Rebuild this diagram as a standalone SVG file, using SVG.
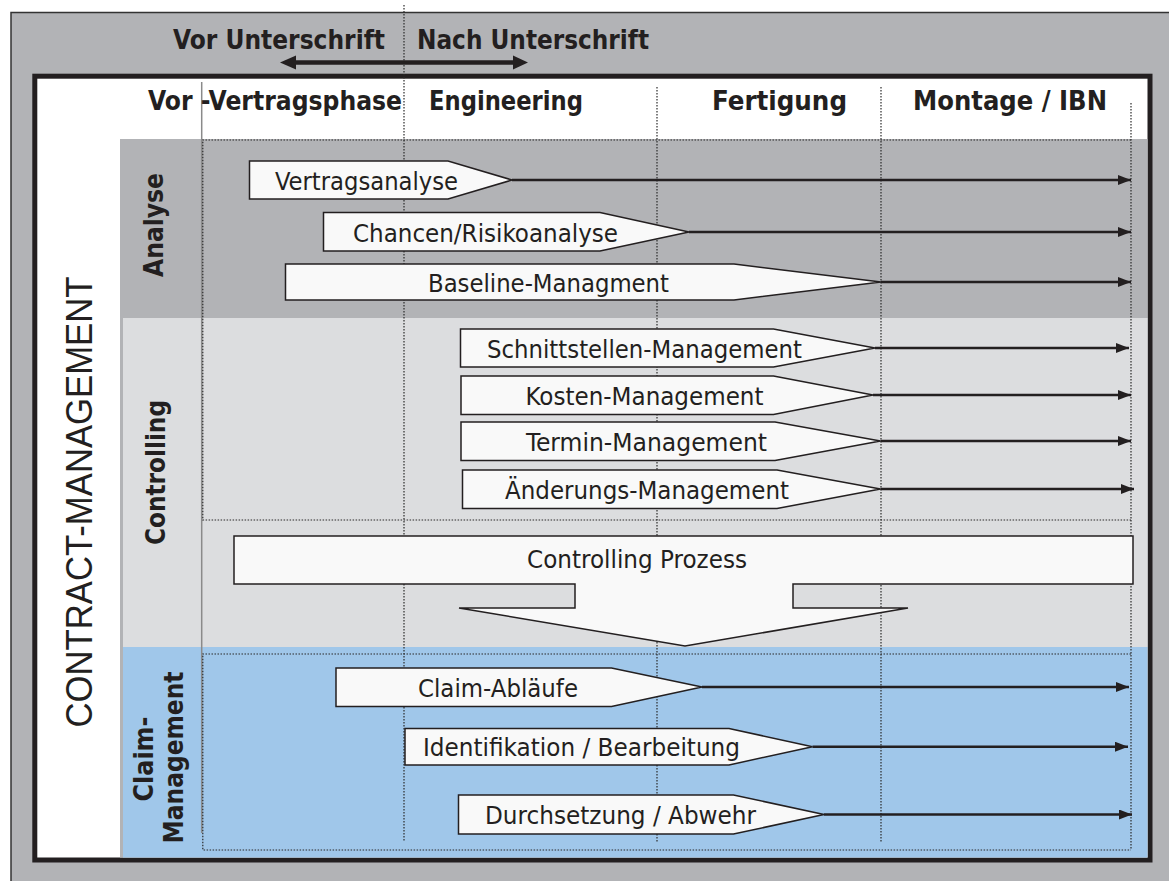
<svg xmlns="http://www.w3.org/2000/svg" width="1169" height="881" viewBox="0 0 1169 881">
<style>
.bold{font-family:"DejaVu Sans Condensed","DejaVu Sans",sans-serif;font-weight:bold;font-stretch:condensed;font-size:26px;fill:#231f20}
.reg{font-family:"DejaVu Sans Condensed","DejaVu Sans",sans-serif;font-stretch:condensed;font-size:25px;fill:#231f20}
.big{font-family:"Liberation Sans",Arial,sans-serif;font-size:37px;fill:#231f20}
.box{fill:#f9f9f9;stroke:#231f20;stroke-width:1.5}
.dot{stroke:#2a2a2a;stroke-width:1.2;stroke-dasharray:1.5 1.5;fill:none}
.con{stroke:#231f20;stroke-width:2.5;fill:none;marker-end:url(#ah)}
</style>
<defs>
<marker id="ah" viewBox="0 0 13 10" refX="13" refY="5" markerWidth="13" markerHeight="10" markerUnits="userSpaceOnUse" orient="auto">
<path d="M0,0 L13,5 L0,10 z" fill="#231f20"/>
</marker>
</defs>

<!-- backgrounds -->
<rect x="11" y="12.5" width="1170" height="880" fill="#b2b3b6" stroke="#333" stroke-width="1.5"/>
<rect x="34.8" y="76.2" width="1115.2" height="783.8" fill="#ffffff" stroke="#231f20" stroke-width="5"/>
<rect x="120" y="139" width="1027.5" height="718.5" fill="#b2b3b6"/>
<rect x="123" y="318" width="1024.5" height="329" fill="#dcdddf"/>
<rect x="123" y="647" width="1024.5" height="210.5" fill="#a0c7ea"/>

<!-- grid lines -->
<g id="grid">
<line x1="201.7" y1="82" x2="201.7" y2="833" stroke="#8a8a8a" stroke-width="1.5"/>
<line class="dot" x1="404" y1="5" x2="404" y2="842"/>
<line class="dot" x1="657" y1="87" x2="657" y2="842"/>
<line class="dot" x1="881" y1="87" x2="881" y2="842"/>
<line class="dot" x1="1131" y1="103" x2="1131" y2="850"/>
<path class="dot" d="M1131,140 H202.8 V520 H1131"/>
<path class="dot" d="M1131,654 H202.8 V850 H1131"/>
</g>

<!-- headers -->
<g id="header-top">
<text class="bold" x="173" y="49" textLength="212" lengthAdjust="spacingAndGlyphs">Vor Unterschrift</text>
<text class="bold" x="417" y="49" textLength="232" lengthAdjust="spacingAndGlyphs">Nach Unterschrift</text>
</g>
<g id="phases">
<text class="bold" x="148" y="110" textLength="254" lengthAdjust="spacingAndGlyphs">Vor -Vertragsphase</text>
<text class="bold" x="429" y="110" textLength="154" lengthAdjust="spacingAndGlyphs">Engineering</text>
<text class="bold" x="712" y="110" textLength="135" lengthAdjust="spacingAndGlyphs">Fertigung</text>
<text class="bold" x="913" y="110" textLength="194" lengthAdjust="spacingAndGlyphs">Montage / IBN</text>
</g>

<!-- side labels -->
<g id="label-contract">
<text class="big" transform="translate(92,502) rotate(-90)" text-anchor="middle" textLength="451" lengthAdjust="spacingAndGlyphs">CONTRACT-MANAGEMENT</text>
</g>
<g id="label-analyse">
<text class="bold" transform="translate(163,225) rotate(-90)" text-anchor="middle" textLength="104" lengthAdjust="spacingAndGlyphs">Analyse</text>
</g>
<g id="label-controlling">
<text class="bold" transform="translate(165,472.5) rotate(-90)" text-anchor="middle" textLength="145" lengthAdjust="spacingAndGlyphs">Controlling</text>
</g>
<g id="label-claim">
<text class="bold" transform="translate(153,759) rotate(-90)" text-anchor="middle" textLength="85" lengthAdjust="spacingAndGlyphs">Claim-</text>
<text class="bold" transform="translate(183,757.5) rotate(-90)" text-anchor="middle" textLength="172" lengthAdjust="spacingAndGlyphs">Management</text>
</g>

<!-- nodes -->
<g id="vertragsanalyse">
<polygon class="box" points="249.5,161 448,161 512,180 448,199 249.5,199"/>
<text class="reg" x="275" y="189.5" textLength="183" lengthAdjust="spacingAndGlyphs">Vertragsanalyse</text>
</g>
<g id="chancen-risikoanalyse">
<polygon class="box" points="323.5,212.5 600,212.5 689,232 600,251 323.5,251"/>
<text class="reg" x="353" y="241.5" textLength="265" lengthAdjust="spacingAndGlyphs">Chancen/Risikoanalyse</text>
</g>
<g id="baseline-managment">
<polygon class="box" points="285.5,264 734,264 881,282 734,300 285.5,300"/>
<text class="reg" x="428" y="291.5" textLength="241" lengthAdjust="spacingAndGlyphs">Baseline-Managment</text>
</g>
<g id="schnittstellen-management">
<polygon class="box" points="460.5,329 773.5,329 875,348 773.5,367 460.5,367"/>
<text class="reg" x="487" y="357.5" textLength="315" lengthAdjust="spacingAndGlyphs">Schnittstellen-Management</text>
</g>
<g id="kosten-management">
<polygon class="box" points="461,376 773.5,376 873,395 773.5,414.5 461,414.5"/>
<text class="reg" x="525.5" y="404.5" textLength="238" lengthAdjust="spacingAndGlyphs">Kosten-Management</text>
</g>
<g id="termin-management">
<polygon class="box" points="461,422 775,422 880.5,441 775,460.5 461,460.5"/>
<text class="reg" x="526" y="450.5" textLength="241" lengthAdjust="spacingAndGlyphs">Termin-Management</text>
</g>
<g id="aenderungs-management">
<polygon class="box" points="462.5,470 777,470 880.5,489 777,508.5 462.5,508.5"/>
<text class="reg" x="505" y="498.5" textLength="284" lengthAdjust="spacingAndGlyphs">Änderungs-Management</text>
</g>
<g id="controlling-prozess">
<polygon class="box" points="234,536 1133,536 1133,584 793,584 793,608 908,608 685,646 459,608 575,608 575,584 234,584"/>
<text class="reg" x="527" y="568" textLength="220" lengthAdjust="spacingAndGlyphs">Controlling Prozess</text>
</g>
<g id="claim-ablaeufe">
<polygon class="box" points="336,668 611.5,668 702,687 611.5,706.5 336,706.5"/>
<text class="reg" x="418" y="696.5" textLength="160" lengthAdjust="spacingAndGlyphs">Claim-Abläufe</text>
</g>
<g id="identifikation-bearbeitung">
<polygon class="box" points="405,728.5 729,728.5 812.5,746.7 729,765 405,765"/>
<text class="reg" x="423" y="756" textLength="317" lengthAdjust="spacingAndGlyphs">Identifikation / Bearbeitung</text>
</g>
<g id="durchsetzung-abwehr">
<polygon class="box" points="458.5,795 733.5,795 824,814.5 733.5,834 458.5,834"/>
<text class="reg" x="485" y="824" textLength="271" lengthAdjust="spacingAndGlyphs">Durchsetzung / Abwehr</text>
</g>

<!-- connectors -->
<g id="connectors">
<line x1="293" y1="62.5" x2="516" y2="62.5" stroke="#231f20" stroke-width="4.5"/>
<polygon points="280,62.5 296,55.5 296,69.5" fill="#231f20"/>
<polygon points="528,62.5 513,55.5 513,69.5" fill="#231f20"/>
<line class="con" x1="512" y1="180" x2="1131" y2="180"/>
<line class="con" x1="689" y1="232" x2="1131" y2="232"/>
<line class="con" x1="881" y1="282" x2="1131" y2="282"/>
<line class="con" x1="875" y1="348" x2="1129" y2="348"/>
<line class="con" x1="873" y1="395" x2="1131" y2="395"/>
<line class="con" x1="880.5" y1="441" x2="1131" y2="441"/>
<line class="con" x1="880.5" y1="489" x2="1134" y2="489"/>
<line class="con" x1="702" y1="687" x2="1129" y2="687"/>
<line class="con" x1="812.5" y1="746.7" x2="1128" y2="746.7"/>
<line class="con" x1="824" y1="814.5" x2="1132" y2="814.5"/>
</g>
</svg>
